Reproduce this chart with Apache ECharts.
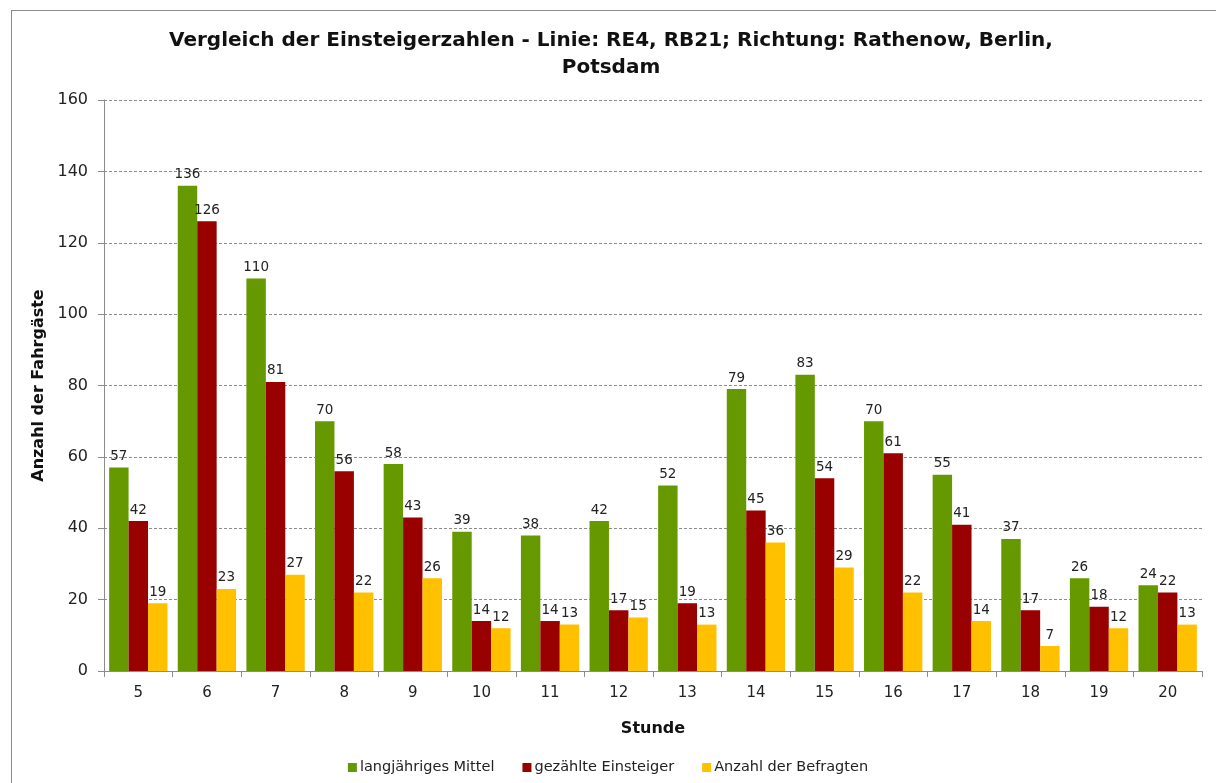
<!DOCTYPE html>
<html lang="de">
<head>
<meta charset="UTF-8">
<title>Vergleich der Einsteigerzahlen</title>
<script src="https://cdn.jsdelivr.net/npm/echarts@6/dist/echarts.min.js"></script>
<style>
  body { margin: 0; background: #fff; }
  #frame { position: absolute; left: 11px; top: 10px; width: 1230px; height: 800px; border: 1px solid #8c8c8c; box-sizing: border-box; }
  #chart { position: absolute; left: 0; top: 0; width: 1216px; height: 783px; }
</style>
</head>
<body>
<div id="frame"></div>
<div id="chart"></div>
<script>
const hours = ['5', '6', '7', '8', '9', '10', '11', '12', '13', '14', '15', '16', '17', '18', '19', '20'];
const mittel = [57, 136, 110, 70, 58, 39, 38, 42, 52, 79, 83, 70, 55, 37, 26, 24];
const gezaehlt = [42, 126, 81, 56, 43, 14, 14, 17, 19, 45, 54, 61, 41, 17, 18, 22];
const befragt = [19, 23, 27, 22, 26, 12, 13, 15, 13, 36, 29, 22, 14, 7, 12, 13];

const font = 'DejaVu Sans, Verdana, sans-serif';
const chart = echarts.init(document.getElementById('chart'));

function bar(name, data, color) {
  return {
    name: name,
    type: 'bar',
    data: data,
    barGap: '0%',
    barCategoryGap: '15%',
    itemStyle: { color: color },
    label: { show: true, position: 'top', distance: 4, color: '#222', fontSize: 13.5, fontFamily: font }
  };
}

chart.setOption({
  animation: false,
  textStyle: { fontFamily: font },
  title: {
    text: 'Vergleich der Einsteigerzahlen - Linie: RE4, RB21; Richtung: Rathenow, Berlin,\nPotsdam',
    left: 606, top: 22, textAlign: 'center',
    textStyle: { fontSize: 20, fontWeight: 'bold', color: '#111', lineHeight: 27, fontFamily: font }
  },
  legend: {
    bottom: 3, left: 612, textAlign: 'center',
    left: 'center',
    itemWidth: 9, itemHeight: 9, itemGap: 28,
    textStyle: { fontSize: 14.5, color: '#222', fontFamily: font, padding: [0, 0, 0, -2] },
    icon: 'rect',
    data: ['langjähriges Mittel', 'gezählte Einsteiger', 'Anzahl der Befragten']
  },
  grid: { left: 104, right: 14, top: 100, bottom: 112, containLabel: false },
  xAxis: {
    type: 'category',
    data: hours,
    name: 'Stunde',
    nameLocation: 'middle',
    nameGap: 50,
    nameTextStyle: { fontSize: 16, fontWeight: 'bold', color: '#111', fontFamily: font },
    axisLine: { lineStyle: { color: '#8c8c8c' } },
    axisTick: { show: true, length: 6, alignWithLabel: false, lineStyle: { color: '#8c8c8c' } },
    axisLabel: { fontSize: 15, color: '#222', margin: 15, fontFamily: font }
  },
  yAxis: {
    type: 'value',
    min: 0, max: 160, interval: 20,
    name: 'Anzahl der Fahrgäste',
    nameLocation: 'middle',
    nameGap: 46,
    nameTextStyle: { fontSize: 16, fontWeight: 'bold', color: '#111', fontFamily: font },
    axisLine: { show: true, lineStyle: { color: '#8c8c8c' } },
    axisTick: { show: true, length: 6, lineStyle: { color: '#8c8c8c' } },
    axisLabel: { fontSize: 16, color: '#222', margin: 16, fontFamily: font },
    splitLine: { lineStyle: { color: '#8c8c8c', type: [3, 2] } }
  },
  series: [
    bar('langjähriges Mittel', mittel, '#669900'),
    bar('gezählte Einsteiger', gezaehlt, '#990000'),
    bar('Anzahl der Befragten', befragt, '#ffc000')
  ]
});
window.addEventListener('resize', () => chart.resize());
</script>
</body>
</html>
